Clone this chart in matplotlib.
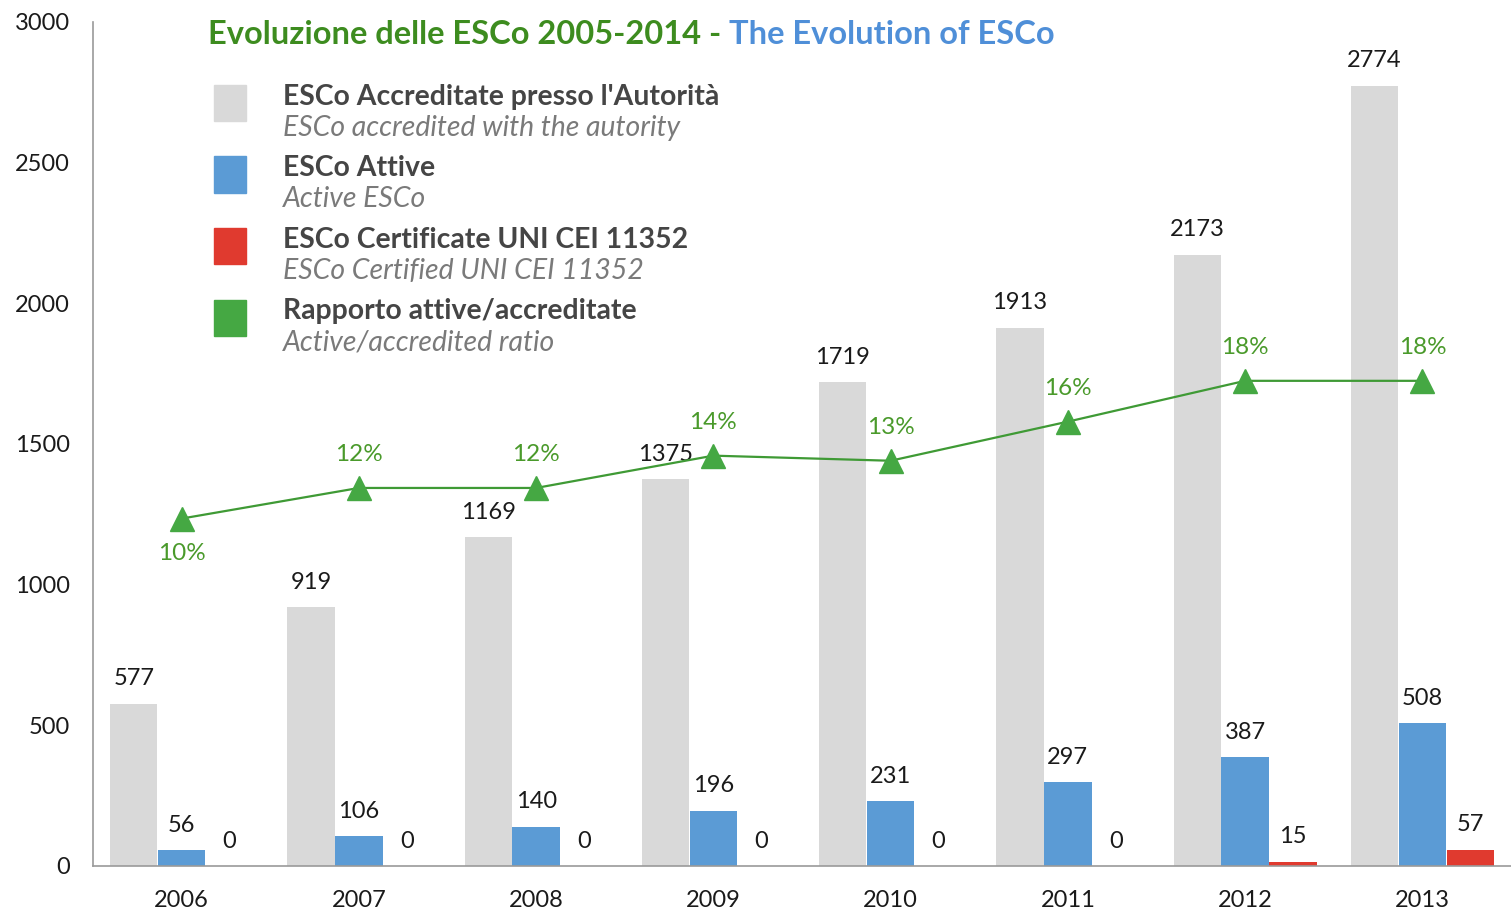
import matplotlib
matplotlib.use("Agg")
import matplotlib.pyplot as plt
from matplotlib.patches import Rectangle
import numpy as np

# ---- data ----
years = ["2006", "2007", "2008", "2009", "2010", "2011", "2012", "2013"]
accreditate = [577, 919, 1169, 1375, 1719, 1913, 2173, 2774]
attive = [56, 106, 140, 196, 231, 297, 387, 508]
certificate = [0, 0, 0, 0, 0, 0, 15, 57]
ratio_pct = [9.9, 11.7, 11.7, 13.6, 13.3, 15.6, 18.0, 18.0]
ratio_labels = ["10%", "12%", "12%", "14%", "13%", "16%", "18%", "18%"]
y_ticks = [0, 500, 1000, 1500, 2000, 2500, 3000]

legend_main = ["ESCo Accreditate presso l'Autorità", "ESCo Attive",
               "ESCo Certificate UNI CEI 11352", "Rapporto attive/accreditate"]
legend_sub = ["ESCo accredited with the autority", "Active ESCo",
              "ESCo Certified UNI CEI 11352", "Active/accredited ratio"]
title_it = "Evoluzione delle ESCo 2005-2014 - "
title_en = "The Evolution of ESCo"

# ---- style ----
C_GRAY = "#d9d9d9"
C_BLUE = "#5b9bd5"
C_RED = "#e03a2f"
C_GREEN = "#45a843"
C_LINE = "#3f9a35"
C_TXTGREEN = "#4a9a2b"
C_TITLEGREEN = "#3d8c1f"
C_TITLEBLUE = "#4f8fd8"

plt.rcParams['font.family'] = ['Lato', 'DejaVu Sans']

W, H = 1511, 911
fig = plt.figure(figsize=(W / 100, H / 100), dpi=100)
fig.patch.set_facecolor("white")

ax = fig.add_axes([93 / W, (H - 866) / H, (W - 93) / W, (866 - 22) / H])
x = np.arange(len(years))
bw = 0.27

ax.bar(x - bw, accreditate, bw * 0.99, color=C_GRAY, zorder=2)
ax.bar(x, attive, bw * 0.99, color=C_BLUE, zorder=2)
ax.bar(x + bw, certificate, bw * 0.99, color=C_RED, zorder=2)

lab_fs = 17
for series, dx in ((accreditate, -bw), (attive, 0), (certificate, bw)):
    for xi, v in zip(x + dx, series):
        ax.annotate(str(v), (xi, v), xytext=(0, 18), textcoords="offset points",
                    ha="center", va="center", fontsize=lab_fs, color="#1a1a1a")

ax.set_xlim(-0.5, len(years) - 0.5)
ax.set_ylim(0, 3000)
ax.set_yticks(y_ticks)
ax.set_yticklabels([str(t) for t in y_ticks])
ax.set_xticks(x)
ax.set_xticklabels(years)
ax.tick_params(axis="both", length=0, labelsize=17, colors="#1a1a1a")
ax.tick_params(axis="y", pad=16.5)
ax.tick_params(axis="x", pad=17)
for s in ["top", "right"]:
    ax.spines[s].set_visible(False)
for s in ["left", "bottom"]:
    ax.spines[s].set_color("#9a9a9a")
    ax.spines[s].set_linewidth(1.2)

# ratio line on secondary axis
ax2 = ax.twinx()
ax2.set_ylim(-10.53, 39.1)
ax2.set_axis_off()
ax2.plot(x, ratio_pct, color=C_LINE, lw=1.6, marker="^", markersize=17,
         markerfacecolor=C_GREEN, markeredgecolor=C_GREEN, zorder=3)
for i, (xi, v, t) in enumerate(zip(x, ratio_pct, ratio_labels)):
    off = -25 if i == 0 else 24
    ax2.annotate(t, (xi, v), xytext=(0, off), textcoords="offset points",
                 ha="center", va="center", fontsize=17.5, color=C_TXTGREEN)

# title
t1 = fig.text(208 / W, 1 - 35 / H, title_it, fontsize=23.5, fontweight="bold",
              color=C_TITLEGREEN, ha="left", va="center")
fig.canvas.draw()
bb = t1.get_window_extent()
fig.text(bb.x1 / W, 1 - 35 / H, title_en, fontsize=23.5, fontweight="bold",
         color=C_TITLEBLUE, ha="left", va="center")

# legend
leg_colors = [C_GRAY, C_BLUE, C_RED, C_GREEN]
for i, (c, m, s) in enumerate(zip(leg_colors, legend_main, legend_sub)):
    top = 85 + i * 71.5
    fig.patches.append(Rectangle((214 / W, 1 - (top + 36) / H), 32 / W, 36 / H,
                                 transform=fig.transFigure, color=c, zorder=5))
    fig.text(283 / W, 1 - (top + 12) / H, m, fontsize=20.4, fontweight="bold",
             color="#454545", ha="left", va="center")
    fig.text(283 / W, 1 - (top + 43) / H, s, fontsize=20.4, style="italic",
             color="#7a7a7a", ha="left", va="center")

fig.savefig("out.png", dpi=100, facecolor="white")
